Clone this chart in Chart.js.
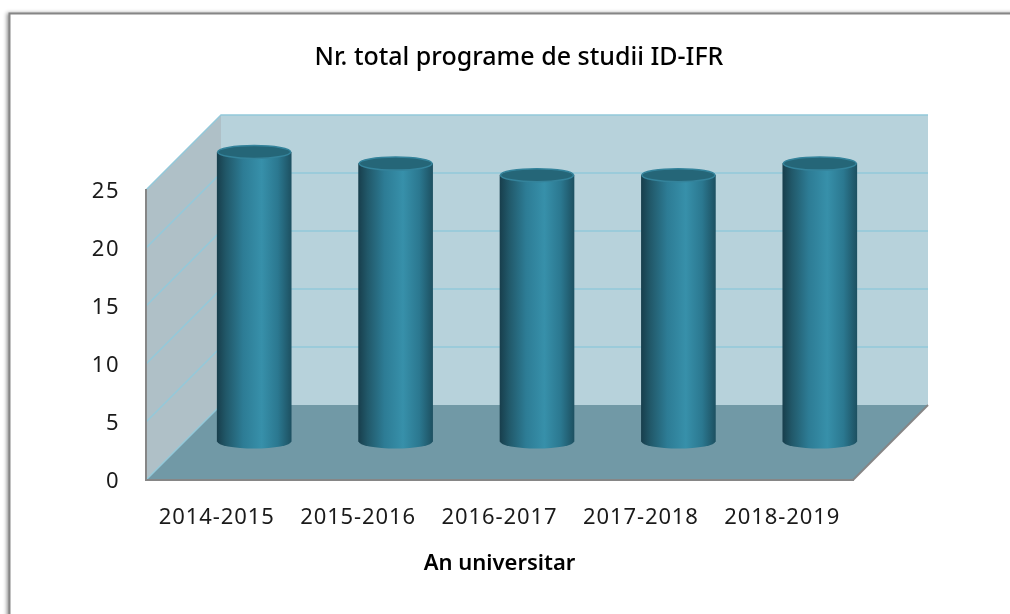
<!DOCTYPE html>
<html>
<head>
<meta charset="utf-8">
<title>Nr. total programe de studii ID-IFR</title>
<script src="https://cdn.jsdelivr.net/npm/chart.js@4"></script>
<style>
    body { margin: 0; background: #fff; }
    canvas { display: block; }
</style>
</head>
<body>
<canvas id="programeChart" width="1010" height="614"></canvas>
<script>
var categories = ['2014-2015', '2015-2016', '2016-2017', '2017-2018', '2018-2019'];
var programe = [25, 24, 23, 23, 24];
var yTicks = [0, 5, 10, 15, 20, 25];

var FONT = '"Noto Sans", sans-serif';
var BAR_WIDTH = 74;
var DEPTH = 75;        // how far the back wall sits from the axes
var BAR_SHIFT_X = 37.5;  // bars stand in the middle of the floor
var BAR_SHIFT_Y = 38;
var CAP_RY = 7;

function barFill(ctx, cx) {
    var g = ctx.createLinearGradient(cx - BAR_WIDTH / 2, 0, cx + BAR_WIDTH / 2, 0);
    g.addColorStop(0, '#183f4d');
    g.addColorStop(0.12, '#215869');
    g.addColorStop(0.35, '#2d7c95');
    g.addColorStop(0.6, '#3790aa');
    g.addColorStop(0.82, '#2b7890');
    g.addColorStop(1, '#1d5162');
    return g;
}

// tick labels are spaced wider than the font, and the y ones sit a bit lower
function spreadLabels(scale, spacing, dy) {
    var drawLabels = scale.drawLabels;
    scale.drawLabels = function (area) {
        var ctx = scale.ctx;
        ctx.save();
        ctx.letterSpacing = spacing;
        ctx.translate(0, dy);
        drawLabels.call(scale, area);
        ctx.restore();
    };
}

// frame of the picture, walls and floor, all taken from the axes
var walls = {
    id: 'walls',
    beforeDraw: function (chart) {
        var ctx = chart.ctx;
        var a = chart.chartArea;
        var y = chart.scales.y;

        ctx.save();
        ctx.fillStyle = '#fff';
        ctx.shadowColor = 'rgba(0,0,0,0.45)';
        ctx.shadowBlur = 4;
        ctx.shadowOffsetX = -2;
        ctx.shadowOffsetY = 0;
        ctx.fillRect(9, 13, 1100, 700);
        ctx.restore();
        ctx.strokeStyle = '#868686';
        ctx.lineWidth = 2;
        ctx.beginPath();
        ctx.moveTo(9.5, 614);
        ctx.lineTo(9.5, 13.5);
        ctx.lineTo(1010, 13.5);
        ctx.stroke();

        // side wall
        ctx.fillStyle = '#afc0c7';
        ctx.beginPath();
        ctx.moveTo(a.left, a.top);
        ctx.lineTo(a.left + DEPTH, a.top - DEPTH);
        ctx.lineTo(a.left + DEPTH, a.bottom - DEPTH);
        ctx.lineTo(a.left, a.bottom);
        ctx.closePath();
        ctx.fill();

        // back wall
        ctx.fillStyle = '#b7d2db';
        ctx.fillRect(a.left + DEPTH, a.top - DEPTH, a.right - a.left, a.bottom - a.top);

        // floor
        ctx.fillStyle = '#7199a6';
        ctx.beginPath();
        ctx.moveTo(a.left, a.bottom);
        ctx.lineTo(a.right, a.bottom);
        ctx.lineTo(a.right + DEPTH, a.bottom - DEPTH);
        ctx.lineTo(a.left + DEPTH, a.bottom - DEPTH);
        ctx.closePath();
        ctx.fill();

        // gridlines run along the side wall and the back wall
        ctx.strokeStyle = '#93c9da';
        ctx.lineWidth = 1.5;
        y.ticks.forEach(function (t) {
            var py = y.getPixelForValue(t.value);
            ctx.beginPath();
            ctx.moveTo(a.left, py);
            ctx.lineTo(a.left + DEPTH, py - DEPTH);
            if (t.value > 0) {
                ctx.lineTo(a.right + DEPTH, py - DEPTH);
            }
            ctx.stroke();
        });

        // edge on the right going back
        ctx.strokeStyle = '#868686';
        ctx.lineWidth = 2;
        ctx.beginPath();
        ctx.moveTo(a.right, a.bottom);
        ctx.lineTo(a.right + DEPTH, a.bottom - DEPTH);
        ctx.stroke();
    }
};

// round the bars off: foot under the bar, lid over it
var cylinders = {
    id: 'cylinders',
    beforeDatasetsDraw: function (chart) {
        var ctx = chart.ctx;
        ctx.save();
        ctx.translate(BAR_SHIFT_X, -BAR_SHIFT_Y);
        chart.getDatasetMeta(0).data.forEach(function (bar) {
            ctx.fillStyle = barFill(ctx, bar.x);
            ctx.beginPath();
            ctx.ellipse(bar.x, bar.base, BAR_WIDTH / 2, CAP_RY, 0, 0, Math.PI * 2);
            ctx.fill();
        });
    },
    afterDatasetsDraw: function (chart) {
        var ctx = chart.ctx;
        chart.getDatasetMeta(0).data.forEach(function (bar) {
            ctx.fillStyle = '#256678';
            ctx.strokeStyle = '#34839b';
            ctx.lineWidth = 1.5;
            ctx.beginPath();
            ctx.ellipse(bar.x, bar.y, BAR_WIDTH / 2 - 0.5, CAP_RY - 0.5, 0, 0, Math.PI * 2);
            ctx.fill();
            ctx.stroke();
        });
        ctx.restore();
    }
};

// the title sits a bit right of the plot, over plot and depth together
var titlePlace = {
    id: 'titlePlace',
    afterLayout: function (chart) {
        chart.titleBlock.left = 28;
        chart.titleBlock.right = 1010;
    }
};

var chart = new Chart(document.getElementById('programeChart').getContext('2d'), {
    type: 'bar',
    data: {
        labels: categories,
        datasets: [{
            label: 'Nr. total programe de studii ID-IFR',
            data: programe,
            barThickness: BAR_WIDTH,
            borderWidth: 0,
            backgroundColor: function (c) {
                var x = c.chart.scales.x;
                var cx = x ? x.getPixelForValue(c.dataIndex) : NaN;
                if (!isFinite(cx)) return '#2d7c95';
                return barFill(c.chart.ctx, cx);
            }
        }]
    },
    plugins: [walls, cylinders, titlePlace],
    options: {
        responsive: false,
        animation: false,
        layout: { padding: { left: 0, right: 157, top: 0, bottom: 0 } },
        plugins: {
            legend: { display: false },
            tooltip: { enabled: false },
            title: {
                display: true,
                text: 'Nr. total programe de studii ID-IFR',
                color: '#000',
                font: { family: FONT, size: 25, weight: '500', lineHeight: 1.2 },
                padding: { top: 43, bottom: 117 }
            }
        },
        scales: {
            x: {
                afterFit: function (s) { s.height = 134; },
                grid: { drawOnChartArea: false, drawTicks: false },
                border: { display: true, color: '#868686', width: 2 },
                ticks: {
                    color: '#1a1a1a',
                    font: { family: FONT, size: 22 },
                    padding: 25,
                    maxRotation: 0,
                    autoSkip: false
                },
                title: {
                    display: true,
                    text: 'An universitar',
                    color: '#000',
                    font: { family: FONT, size: 22, weight: '600', lineHeight: 1.2 },
                    padding: { top: 0, bottom: 37 }
                }
            },
            y: {
                min: 0,
                max: 25,
                afterBuildTicks: function (s) {
                    s.ticks = yTicks.map(function (v) { return { value: v }; });
                },
                afterFit: function (s) { s.width = 146; },
                grid: { drawOnChartArea: false, drawTicks: false },
                border: { display: true, color: '#868686', width: 2 },
                ticks: {
                    color: '#1a1a1a',
                    font: { family: FONT, size: 22 },
                    padding: 26
                }
            }
        }
    }
});

spreadLabels(chart.scales.x, '0.9px', 0);
spreadLabels(chart.scales.y, '1.5px', 2);
chart.update();
</script>
</body>
</html>
